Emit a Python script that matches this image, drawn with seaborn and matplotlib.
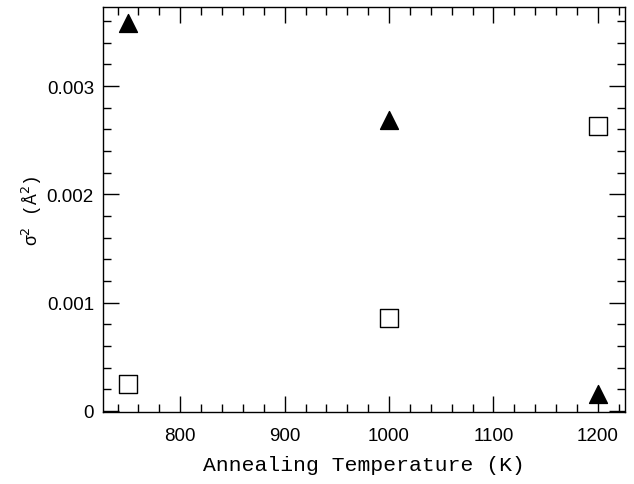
import matplotlib
matplotlib.use("Agg")
import matplotlib.pyplot as plt
from matplotlib.ticker import MultipleLocator
import seaborn as sns
import pandas as pd

temps = [750, 1000, 1200]
triangle_vals = [0.00358, 0.00269, 0.000157]
square_vals = [0.000249, 0.000859, 0.00263]

sns.set_style("ticks", {"axes.edgecolor": "black", "text.color": "black",
                        "axes.labelcolor": "black", "xtick.color": "black",
                        "ytick.color": "black"})
plt.rcParams['font.family'] = ['Liberation Sans', 'DejaVu Sans']

df = pd.DataFrame({
    "T": temps * 2,
    "s": triangle_vals + square_vals,
    "kind": ["tri"] * 3 + ["sq"] * 3,
})

fig = plt.figure(figsize=(6.34, 4.85), dpi=100)
ax = fig.add_axes([103/634, 1 - 413/485, (625-103)/634, (413-8)/485])

sns.scatterplot(data=df[df.kind == "tri"], x="T", y="s", marker="^", s=165,
                color="black", edgecolor="black", ax=ax, legend=False)
sns.scatterplot(data=df[df.kind == "sq"], x="T", y="s", marker="s", s=150,
                facecolor="white", edgecolor="black", linewidth=1.0, ax=ax, legend=False)

ax.set_xlim(726, 1226)
ax.set_ylim(-0.00001, 0.00373)
ax.xaxis.set_major_locator(MultipleLocator(100))
ax.xaxis.set_minor_locator(MultipleLocator(20))
ax.yaxis.set_minor_locator(MultipleLocator(0.0002))
ax.set_yticks([0, 0.001, 0.002, 0.003])
ax.set_yticklabels(["0", "0.001", "0.002", "0.003"])
ax.tick_params(which="both", direction="in", top=True, right=True, labelsize=13.5, width=1)
ax.tick_params(which="major", length=11.5)
ax.tick_params(which="minor", length=5.75)
ax.tick_params(axis="x", pad=10.5)
ax.tick_params(axis="y", pad=6.5)
for sp in ax.spines.values():
    sp.set_linewidth(1)

ax.set_xlabel("Annealing Temperature (K)", family=["Liberation Mono"], fontsize=15.4, labelpad=8)
ax.set_ylabel("σ$^2$ (Å$^2$)", family=["Liberation Mono"], fontsize=13, labelpad=2)

fig.savefig("out.png", dpi=100)
